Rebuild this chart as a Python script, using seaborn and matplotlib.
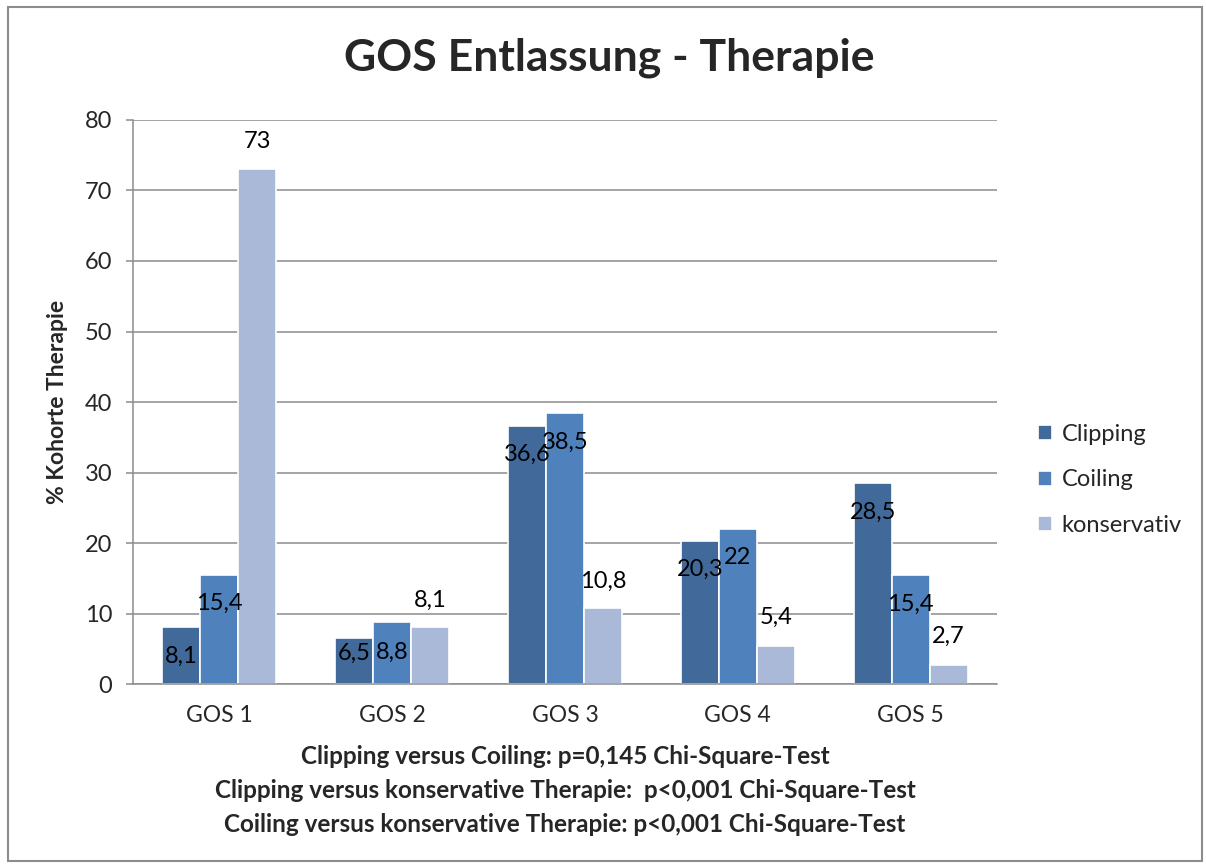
import pandas as pd
import numpy as np
import matplotlib.pyplot as plt
import seaborn as sns

# ── Plot style ───────────────────────────────────────────────
sns.set_theme(style="white")
plt.rcParams['font.family'] = ['Lato', 'DejaVu Sans']

# ── Data ─────────────────────────────────────────────────────
categories = ['GOS 1', 'GOS 2', 'GOS 3', 'GOS 4', 'GOS 5']
series = ['Clipping', 'Coiling', 'konservativ']
clipping = [8.1, 6.5, 36.6, 20.3, 28.5]
coiling = [15.4, 8.8, 38.5, 22, 15.4]
konservativ = [73, 8.1, 10.8, 5.4, 2.7]

label_text = {
    'Clipping': ['8,1', '6,5', '36,6', '20,3', '28,5'],
    'Coiling': ['15,4', '8,8', '38,5', '22', '15,4'],
    'konservativ': ['73', '8,1', '10,8', '5,4', '2,7'],
}
# label offset from bar top (data units): inside (<0) or above (>0)
label_dy = {
    'Clipping': [-4.2, -2.1, -4.0, -4.1, -4.1],
    'Coiling': [-4.0, -4.3, -4.2, -4.1, -4.1],
    'konservativ': [3.9, 3.8, 3.7, 4.0, 4.0],
}

colors = {'Clipping': '#416A9B', 'Coiling': '#4F81BD', 'konservativ': '#A9B9D7'}

df = pd.DataFrame({
    'GOS': categories * 3,
    'Therapie': [s for s in series for _ in categories],
    'value': clipping + coiling + konservativ,
})

# ── Figure ───────────────────────────────────────────────────
fig = plt.figure(figsize=(12.06, 8.65), dpi=100)
left, right = 133 / 1206, 997 / 1206
ax = fig.add_axes([left, 0.2092, right - left, 0.8613 - 0.2092])

sns.barplot(data=df, x='GOS', y='value', hue='Therapie', order=categories,
            hue_order=series, palette=colors, width=0.66, ax=ax,
            edgecolor='white', linewidth=1.2, saturation=1, legend=True)

ax.set_ylim(0, 80)
ax.set_yticks(np.arange(0, 81, 10))
ax.set_xlim(-0.5, 4.5)
ax.yaxis.grid(True, color='#8C8C8C', linewidth=1.1)
ax.set_axisbelow(True)

for s in ['top', 'right']:
    ax.spines[s].set_visible(False)
for s in ['left', 'bottom']:
    ax.spines[s].set_color('#8C8C8C')
    ax.spines[s].set_linewidth(1.1)

ax.tick_params(axis='y', length=5, width=1.1, color='#8C8C8C', pad=10,
               labelsize=17, left=True)
ax.tick_params(axis='x', length=0, pad=15, labelsize=16.5)

ax.set_xlabel('')
ax.set_ylabel('% Kohorte Therapie', fontsize=16.5, fontweight='bold')
ax.yaxis.set_label_coords(-0.075, 0.5)

# data labels
for cont, name in zip(ax.containers, series):
    for bar, txt, dy in zip(cont, label_text[name], label_dy[name]):
        ax.text(bar.get_x() + bar.get_width() / 2, bar.get_height() + dy, txt,
                ha='center', va='center', fontsize=17, color='black')

# legend
handles, labels = ax.get_legend_handles_labels()
ax.legend(handles, labels, loc='center left', bbox_to_anchor=(1.034, 0.362),
          frameon=False, fontsize=17, handlelength=0.6, handleheight=0.6,
          handletextpad=0.4, labelspacing=1.05, borderpad=0)

# title and footnotes
fig.text(0.505, 1 - 58 / 865, 'GOS Entlassung - Therapie', ha='center',
         va='center', fontsize=32, fontweight='bold')
notes = ['Clipping versus Coiling: p=0,145 Chi-Square-Test',
         'Clipping versus konservative Therapie:  p<0,001 Chi-Square-Test',
         'Coiling versus konservative Therapie: p<0,001 Chi-Square-Test']
for i, line in enumerate(notes):
    fig.text(565 / 1206, 1 - (756 + 34 * i) / 865, line, ha='center',
             va='center', fontsize=17.5, fontweight='bold')

# outer border
border = plt.Rectangle((8 / 1206, 4 / 865), 1194 / 1206, 854 / 865,
                       transform=fig.transFigure, fill=False,
                       edgecolor='#8C8C8C', linewidth=1.5)
fig.add_artist(border)

fig.savefig('out.png', dpi=100)
